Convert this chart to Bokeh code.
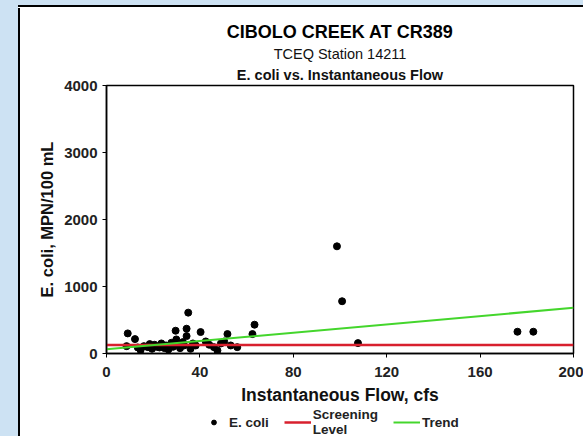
from bokeh.plotting import figure
from bokeh.models import Range1d, Title, Legend, LegendItem, FixedTicker
from bokeh.layouts import column
from bokeh.embed import file_html
from bokeh.resources import INLINE

# E. coli samples: instantaneous flow (cfs) and E. coli (MPN/100 mL)
flow = [8.6, 9.1, 12.2, 13.4, 14.6, 16.0, 17.7, 18.5, 19.5, 20.6, 21.5, 22.7,
        23.5, 24.9, 25.5, 26.5, 27.8, 28.5, 29.6, 29.9, 30.5, 31.5, 32.7, 33.2,
        34.3, 34.3, 35.0, 36.0, 37.0, 38.2, 40.3, 42.5, 44.0, 46.0, 47.5, 49.0,
        50.4, 51.8, 53.2, 56.0, 62.5, 63.4, 98.7, 100.9, 107.7, 176.0, 182.8]
ecoli = [110, 300, 215, 90, 50, 110, 95, 140, 70, 130, 100, 90,
         150, 80, 120, 60, 160, 100, 340, 210, 130, 80, 170, 120,
         370, 260, 610, 70, 150, 120, 320, 180, 130, 95, 45, 150,
         180, 290, 120, 95, 290, 430, 1600, 780, 155, 325, 325]

screening_x = [0, 200]
screening_y = [126, 126]
trend_x = [0, 200]
trend_y = [63, 682]

x_ticks = [0, 40, 80, 120, 160, 200]
y_ticks = [0, 1000, 2000, 3000, 4000]

legend_labels = ["E. coli", "Screening\nLevel", "Trend"]

FONT = "Liberation Sans"
RED = "#d8202e"
GREEN = "#44d62c"
BLUE = "#cde2f3"
LEFT_BAND = (f"linear-gradient(to right, {BLUE} 0px, {BLUE} 18px, "
             "#000000 18px, #000000 20px, #ffffff 20px)")
TOP_BAND = (f"linear-gradient(to bottom, {BLUE} 0px, {BLUE} 5px, "
            "#000000 5px, #000000 7px, #ffffff 7px) 18px 0px / 100% 8px no-repeat")

p = figure(width=583, height=408, output_backend="svg", toolbar_location=None,
           x_range=Range1d(0, 200), y_range=Range1d(0, 4000),
           min_border_left=106, min_border_right=10, min_border_top=85,
           min_border_bottom=55,
           title="CIBOLO CREEK AT CR389")
p.background_fill_color = "white"
p.border_fill_color = None
p.styles = {"background": TOP_BAND + ", " + LEFT_BAND}
p.outline_line_color = "black"
p.outline_line_width = 1.5
p.grid.visible = False

p.title.align = "center"
p.title.text_font = FONT
p.title.text_font_size = "18px"
p.title.text_font_style = "bold"
p.title.text_color = "black"
p.title.standoff = 3
p.add_layout(Title(text="E. coli vs. Instantaneous Flow", align="center", text_font=FONT,
                   text_font_size="14.5px", text_font_style="bold", text_color="#111111",
                   standoff=6), "above")
p.add_layout(Title(text="TCEQ Station 14211", align="center", text_font=FONT,
                   text_font_size="14.5px", text_font_style="normal", text_color="#111111",
                   standoff=0), "above")

p.scatter(flow, ecoli, size=7, color="black")
p.line(screening_x, screening_y, line_color=RED, line_width=2.5)
p.line(trend_x, trend_y, line_color=GREEN, line_width=2)

for ax, ticks in ((p.xaxis, x_ticks), (p.yaxis, y_ticks)):
    ax.ticker = FixedTicker(ticks=ticks)
    ax.minor_tick_line_color = None
    ax.major_tick_in = 0
    ax.major_tick_out = 4
    ax.axis_line_color = "black"
    ax.axis_line_width = 1.5
    ax.major_tick_line_color = "black"
    ax.major_label_text_font = FONT
    ax.major_label_text_font_size = "15px"
    ax.major_label_text_font_style = "bold"
    ax.major_label_text_color = "#222222"
    ax.axis_label_text_font = FONT
    ax.axis_label_text_font_style = "bold"
    ax.axis_label_text_color = "#111111"

p.xaxis.axis_label = "Instantaneous Flow, cfs"
p.xaxis.axis_label_text_font_size = "17.5px"
p.xaxis.major_label_standoff = 9
p.xaxis.axis_label_standoff = 5
p.yaxis.axis_label = "E. coli, MPN/100 mL"
p.yaxis.axis_label_text_font_size = "16.5px"
p.yaxis.major_label_standoff = 5
p.yaxis.axis_label_standoff = 5

# legend strip below the chart
nan = float("nan")
pl = figure(width=583, height=28, output_backend="svg", toolbar_location=None,
            x_range=Range1d(0, 1), y_range=Range1d(0, 1),
            x_axis_location=None, y_axis_location=None,
            min_border_left=0, min_border_right=0, min_border_top=0, min_border_bottom=0)
pl.background_fill_color = None
pl.border_fill_color = None
pl.styles = {"background": LEFT_BAND}
pl.outline_line_color = None
pl.grid.visible = False
lg_pts = pl.scatter([nan], [nan], size=6, color="black")
lg_scr = pl.line([nan, nan], [nan, nan], line_color=RED, line_width=2.5)
lg_tr = pl.line([nan, nan], [nan, nan], line_color=GREEN, line_width=2)

legend = Legend(items=[LegendItem(label=legend_labels[0], renderers=[lg_pts]),
                       LegendItem(label=legend_labels[1], renderers=[lg_scr]),
                       LegendItem(label=legend_labels[2], renderers=[lg_tr])],
                orientation="horizontal", location="left", margin=94,
                border_line_color=None, background_fill_alpha=0,
                label_text_font=FONT, label_text_font_size="13.5px",
                label_text_font_style="bold", label_text_color="#222222",
                label_text_line_height=1.0,
                glyph_width=27, glyph_height=12, spacing=15, padding=0,
                label_standoff=2)
pl.add_layout(legend)

open("out.html", "w").write(file_html(column(p, pl), INLINE))
